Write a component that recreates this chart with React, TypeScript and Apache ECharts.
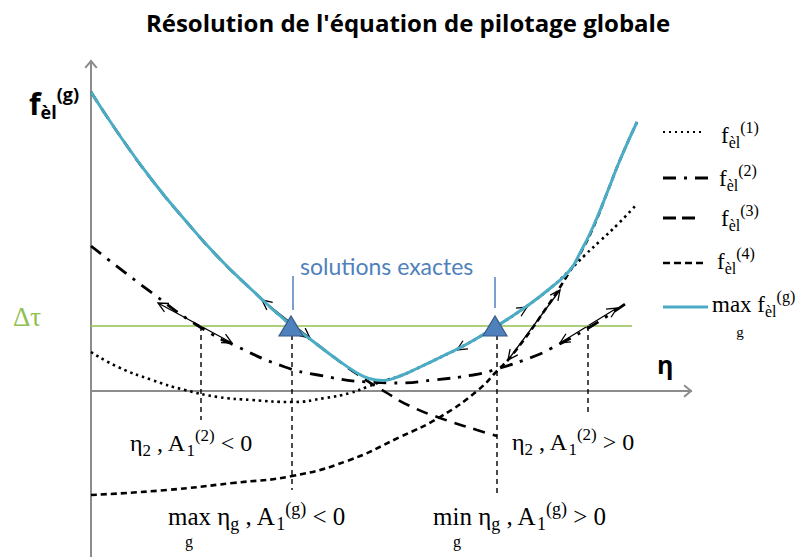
import React, { useEffect, useRef } from "react";
import * as echarts from "echarts";

// ---------- data (η on x, f on y) ----------
const TITLE = "Résolution de l'équation de pilotage globale";
const DELTA_TAU = 1.3;
const X_MIN = 0;
const X_MAX = 12;
const Y_MIN = -3.32;
const Y_MAX = 6.6;

const F1: number[][] = [
  [0, 0.78], [0.54, 0.48], [1.22, 0.22], [1.88, 0.02], [2.54, -0.12], [3.22, -0.18],
  [4.02, -0.22], [4.68, -0.14], [5.18, -0.04], [5.52, 0.08], [5.84, 0.2], [6.18, 0.3],
  [6.52, 0.45], [6.98, 0.67], [7.52, 0.94], [8.04, 1.25], [8.72, 1.7], [9.24, 2.1],
  [9.58, 2.42], [9.88, 2.72], [10.18, 3.0], [10.54, 3.34], [10.92, 3.74],
];
const F2: number[][] = [
  [0, 2.9], [1.22, 1.96], [2.18, 1.28], [2.94, 0.88], [3.88, 0.48], [4.54, 0.32],
  [5.52, 0.18], [6.18, 0.16], [6.84, 0.22], [7.64, 0.32], [8.12, 0.44], [8.88, 0.7],
  [9.18, 0.84], [9.98, 1.28], [10.74, 1.78],
];
const F3: number[][] = [
  [0, 5.98], [0.54, 5.16], [1.22, 4.22], [1.88, 3.42], [2.54, 2.68], [3.22, 2.02],
  [3.88, 1.42], [4.38, 1.04], [4.84, 0.69], [5.32, 0.34], [5.92, -0.04], [6.38, -0.3],
  [6.98, -0.54], [7.72, -0.78], [8.12, -0.9],
];
const F4: number[][] = [
  [0, -2.08], [1.52, -1.98], [2.84, -1.84], [4.02, -1.7], [5.12, -1.4], [6.18, -0.92],
  [6.98, -0.52], [7.72, 0.0], [8.12, 0.4], [8.44, 0.74], [9.12, 1.68], [9.58, 2.4],
  [9.78, 2.74], [10.04, 3.26], [10.32, 3.96], [10.58, 4.62], [10.92, 5.38],
];
const FMAX: number[][] = [
  [0, 5.98], [0.54, 5.16], [1.22, 4.22], [1.88, 3.42], [2.54, 2.68], [3.22, 2.02],
  [3.88, 1.42], [4.38, 1.04], [4.84, 0.69], [5.32, 0.36], [5.56, 0.25], [5.84, 0.21],
  [6.18, 0.3], [6.52, 0.45], [6.98, 0.67], [7.52, 0.94], [8.04, 1.25], [8.72, 1.7],
  [9.24, 2.1], [9.58, 2.42], [9.78, 2.76], [10.04, 3.28], [10.32, 3.96], [10.58, 4.62],
  [10.92, 5.38],
];
// Δτ line extent
const TAU_RANGE: number[] = [-0.72, 10.82];
// exact solutions (triangles) and their blue marker ticks [η, top, bottom]
const SOLUTIONS: number[] = [4.0, 8.08];
const SOLUTION_TICKS: number[][] = [[4.04, 2.3, 1.62], [8.08, 2.28, 1.66]];
// vertical drop lines [η, bottom f]
const DROPS: number[][] = [[2.2, -0.58], [4.02, -1.98], [8.12, -2.08], [9.94, -0.48]];
// tangent double arrows [η1, f1, η2, f2]
const TANGENTS: number[][] = [
  [1.34, 1.76, 2.82, 0.96],
  [3.42, 1.82, 4.38, 1.06],
  [7.32, 0.82, 8.72, 1.68],
  [8.34, 0.62, 9.38, 2.02],
  [9.38, 0.96, 10.52, 1.66],
];
const AXIS_HEADS: number[][] = [[0, Y_MAX, 0, 1], [X_MAX, 0, 1, 0]];

// ---------- styles ----------
const SERIF = "'Liberation Serif', 'Times New Roman', serif";
const SANS = "'Open Sans', sans-serif";
const CYAN = "#4BACC6";
const BLUE = "#4F81BD";
const GREEN = "#92C050";
const AXIS = "#8C8C8C";

const serifRich = (size: number) => {
  const s = Math.round(size * 0.7);
  return {
    m: { fontSize: size, fontFamily: SERIF, fill: "#000", lineHeight: size + 8 },
    sb: { fontSize: s, fontFamily: SERIF, fill: "#000", lineHeight: s, verticalAlign: "bottom" },
    sp: { fontSize: s, fontFamily: SERIF, fill: "#000", lineHeight: s, verticalAlign: "top" },
  };
};

const richText = (x: number, y: number, text: string, size: number, align = "left") => ({
  type: "text",
  x,
  y,
  silent: true,
  style: { text, rich: serifRich(size), align, verticalAlign: "middle", fill: "#000" },
});

const plainText = (x: number, y: number, text: string, size: number, family: string, fill: string, weight = "normal", align = "left") => ({
  type: "text",
  x,
  y,
  silent: true,
  style: { text, fontSize: size, fontFamily: family, fontWeight: weight, fill, align, verticalAlign: "middle" },
});

const legendLine = (y: number, x1: number, x2: number, stroke: string, lineWidth: number, lineDash: number[] | null) => ({
  type: "line",
  silent: true,
  shape: { x1, y1: y, x2, y2: y },
  style: { stroke, lineWidth, lineDash: lineDash || undefined },
});

function head(tip: number[], dx: number, dy: number, len: number, ang: number, color: string, w: number) {
  const bx = -dx, by = -dy;
  const c = Math.cos(ang), s = Math.sin(ang);
  const r1 = [bx * c - by * s, bx * s + by * c];
  const r2 = [bx * c + by * s, -bx * s + by * c];
  return {
    type: "polyline",
    shape: { points: [[tip[0] + r1[0] * len, tip[1] + r1[1] * len], [tip[0], tip[1]], [tip[0] + r2[0] * len, tip[1] + r2[1] * len]] },
    style: { stroke: color, lineWidth: w, fill: "none" },
  };
}

export default function App() {
  const ref = useRef<HTMLDivElement>(null);
  useEffect(() => {
    if (!ref.current) return;
    const chart = echarts.init(ref.current, undefined, { renderer: "svg" });
    const lineBase = { type: "line", showSymbol: false, symbol: "none", silent: true, animation: false };
    const curve = { ...lineBase, smooth: 0.5 };
    const option: any = {
      animation: false,
      backgroundColor: "#fff",
      grid: { left: 91, right: 114, top: 61, bottom: 0 },
      xAxis: {
        type: "value", min: X_MIN, max: X_MAX,
        axisLine: { show: true, onZero: true, lineStyle: { color: AXIS, width: 2 } },
        axisTick: { show: false }, axisLabel: { show: false }, splitLine: { show: false },
      },
      yAxis: {
        type: "value", min: Y_MIN, max: Y_MAX,
        axisLine: { show: true, onZero: false, lineStyle: { color: AXIS, width: 2 } },
        axisTick: { show: false }, axisLabel: { show: false }, splitLine: { show: false },
      },
      series: [
        {
          ...lineBase, name: "tau", clip: false,
          data: [[TAU_RANGE[0], DELTA_TAU], [TAU_RANGE[1], DELTA_TAU]],
          lineStyle: { color: GREEN, width: 1.3 },
        },
        ...DROPS.map((d) => ({
          ...lineBase, data: [[d[0], DELTA_TAU], [d[0], d[1]]],
          lineStyle: { color: "#000", width: 1.4, type: [5, 4] },
        })),
        ...SOLUTION_TICKS.map((t) => ({
          ...lineBase, data: [[t[0], t[1]], [t[0], t[2]]],
          lineStyle: { color: BLUE, width: 1.5 },
        })),
        { ...curve, name: "f1", data: F1, lineStyle: { color: "#000", width: 2.6, type: [2.5, 3.8] } },
        { ...curve, name: "f2", data: F2, lineStyle: { color: "#000", width: 2.8, type: [13, 8, 3, 8] } },
        { ...curve, name: "f3", data: F3, lineStyle: { color: "#000", width: 2.6, type: [12, 8] } },
        { ...curve, name: "f4", data: F4, lineStyle: { color: "#000", width: 2.6, type: [6, 4] } },
        { ...curve, name: "max", data: FMAX, lineStyle: { color: CYAN, width: 3 } },
        {
          type: "custom", name: "tangents", silent: true,
          encode: { x: [0, 2], y: [1, 3] },
          data: TANGENTS,
          renderItem: (_p: any, api: any) => {
            const p1 = api.coord([api.value(0), api.value(1)]);
            const p2 = api.coord([api.value(2), api.value(3)]);
            const dx = p2[0] - p1[0], dy = p2[1] - p1[1];
            const L = Math.hypot(dx, dy) || 1;
            const ux = dx / L, uy = dy / L;
            return {
              type: "group",
              children: [
                { type: "line", shape: { x1: p1[0], y1: p1[1], x2: p2[0], y2: p2[1] }, style: { stroke: "#000", lineWidth: 1.3 } },
                head(p2, ux, uy, 11, Math.PI / 7, "#000", 1.3),
                head(p1, -ux, -uy, 11, Math.PI / 7, "#000", 1.3),
              ],
            };
          },
        },
        {
          type: "custom", name: "axisHeads", silent: true,
          encode: { x: 0, y: 1 },
          data: AXIS_HEADS,
          renderItem: (_p: any, api: any) => {
            const tip = api.coord([api.value(0), api.value(1)]);
            const back = api.coord([api.value(0) - api.value(2) * 0.5, api.value(1) - api.value(3) * 0.5]);
            const dx = tip[0] - back[0], dy = tip[1] - back[1];
            const L = Math.hypot(dx, dy) || 1;
            return head(tip, dx / L, dy / L, 9, Math.PI / 4.5, AXIS, 2);
          },
        },
        {
          type: "scatter", name: "solutions", silent: true,
          symbol: "triangle", symbolSize: [24, 20],
          data: SOLUTIONS.map((x) => [x, DELTA_TAU]),
          itemStyle: { color: BLUE, borderColor: "#385D8A", borderWidth: 1.2, opacity: 1 },
          z: 5,
        },
      ],
      graphic: [
        plainText(408, 22, TITLE, 24, SANS, "#000", "bold", "center"),
        {
          type: "text", x: 29, y: 103, silent: true,
          style: {
            text: "{f|f}{s|èl}{p|(g)}",
            verticalAlign: "middle", align: "left",
            rich: {
              f: { fontSize: 30, fontWeight: "bold", fontFamily: SANS, fill: "#000", lineHeight: 36 },
              s: { fontSize: 18, fontWeight: "bold", fontFamily: SANS, fill: "#000", lineHeight: 18, verticalAlign: "bottom" },
              p: { fontSize: 18, fontWeight: "bold", fontFamily: SANS, fill: "#000", lineHeight: 18, verticalAlign: "top" },
            },
          },
        },
        plainText(657, 364, "η", 25, SANS, "#000", "bold"),
        plainText(13, 317, "Δτ", 27, SERIF, GREEN),
        plainText(300, 266, "solutions exactes", 23, "Lato, sans-serif", BLUE),
        richText(130, 443, "{m|η}{sb|2}{m| , A}{sb|1}{sp|(2)}{m| < 0}", 24),
        richText(512, 442, "{m|η}{sb|2}{m| , A}{sb|1}{sp|(2)}{m| > 0}", 24),
        richText(168, 516, "{m|max η}{sb|g}{m| , A}{sb|1}{sp|(g)}{m| < 0}", 25),
        plainText(189, 541, "g", 16, SERIF, "#000", "normal", "center"),
        richText(433, 516, "{m|min η}{sb|g}{m| , A}{sb|1}{sp|(g)}{m| > 0}", 25),
        plainText(457, 541, "g", 16, SERIF, "#000", "normal", "center"),
        // legend
        legendLine(132, 663, 703, "#000", 2.2, [2, 4]),
        legendLine(178, 663, 708, "#000", 2.8, [13, 8, 3, 8]),
        legendLine(218, 663, 697, "#000", 2.8, [13, 6]),
        legendLine(263, 663, 703, "#000", 2.6, [7, 4]),
        legendLine(307, 663, 708, CYAN, 3, null),
        richText(721, 135, "{m|f}{sb|èl}{sp|(1)}", 23),
        richText(719, 178, "{m|f}{sb|èl}{sp|(2)}", 23),
        richText(721, 218, "{m|f}{sb|èl}{sp|(3)}", 23),
        richText(717, 261, "{m|f}{sb|èl}{sp|(4)}", 23),
        richText(712, 304, "{m|max f}{sb|èl}{sp|(g)}", 23),
        plainText(740, 332, "g", 15, SERIF, "#000", "normal", "center"),
      ],
    };
    chart.setOption(option);
    return () => chart.dispose();
  }, []);
  return <div ref={ref} style={{ position: "absolute", left: 0, top: 0, width: 805, height: 557, background: "#fff" }} />;
}
